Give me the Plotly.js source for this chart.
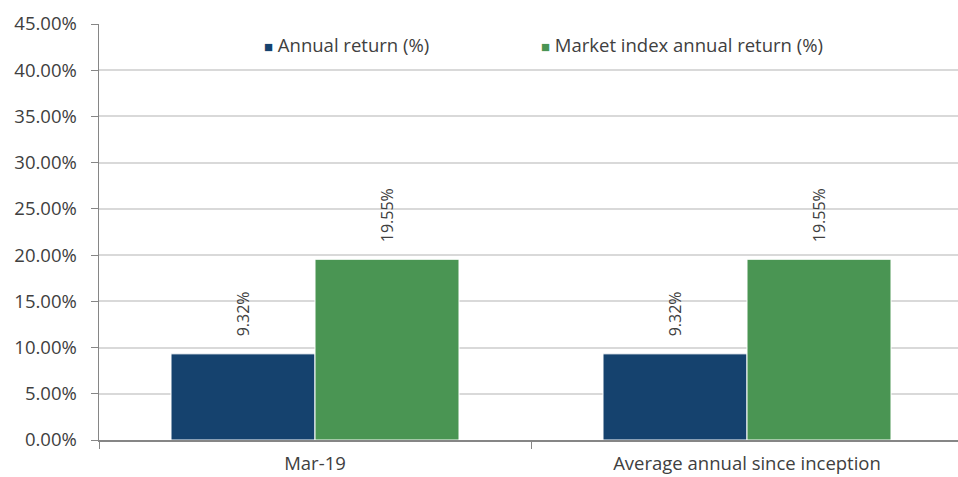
<!DOCTYPE html>
<html>
<head>
<meta charset="utf-8">
<script src="https://cdn.plot.ly/plotly-3.0.1.min.js"></script>
<style>html,body{margin:0;padding:0;background:#fff;overflow:hidden;width:958px;height:477px}#chart{width:963px;height:477px}</style>
</head>
<body>
<div id="chart"></div>
<script>
const categories = ["Mar-19", "Average annual since inception"];
const seriesNames = ["Annual return (%)", "Market index annual return (%)"];
const annualReturn = [9.32, 9.32];
const marketReturn = [19.55, 19.55];
const seriesColors = ["#15426E", "#4A9553"];
const seriesValues = [annualReturn, marketReturn];

const FONT = "Open Sans, Noto Sans, sans-serif";
const TXT = "#404040";

const traces = seriesValues.map((vals, s) => ({
  type: "bar",
  name: seriesNames[s],
  x: categories,
  y: vals,
  marker: { color: seriesColors[s], line: { color: "#ffffff", width: 1 } },
  hoverinfo: "skip"
}));

const annotations = [];
// value labels (rotated) above each bar
seriesValues.forEach((vals, s) => {
  vals.forEach((v, i) => {
    annotations.push({
      x: i + (s === 0 ? -1 / 6 : 1 / 6),
      y: v,
      xref: "x", yref: "y",
      text: v.toFixed(2) + "%",
      textangle: -90,
      showarrow: false,
      xanchor: "center",
      yanchor: "bottom",
      yshift: 15,
      font: { family: FONT, size: 16, color: TXT }
    });
  });
});
// legend drawn as text with coloured squares
const legendX = [0.1885, 0.5096];
seriesNames.forEach((n, s) => {
  annotations.push({
    x: legendX[s], y: 0.951, xref: "paper", yref: "paper",
    xanchor: "left", yanchor: "middle", showarrow: false,
    text: '<span style="color:' + seriesColors[s] + ';font-size:15px">■</span> ' + n,
    font: { family: FONT, size: 18.5, color: TXT }
  });
});

const layout = {
  width: 963, height: 477,
  margin: { l: 99, r: 0, t: 24, b: 37 },
  paper_bgcolor: "#ffffff", plot_bgcolor: "#ffffff",
  font: { family: FONT, color: TXT },
  showlegend: false,
  barmode: "group",
  bargap: 1 / 3,
  bargroupgap: 0,
  xaxis: {
    type: "category",
    showline: true, linecolor: "#868686", linewidth: 1.5,
    ticks: "outside", tickson: "boundaries", ticklen: 7, tickcolor: "#868686",
    showgrid: false,
    ticklabelstandoff: 6,
    tickfont: { family: FONT, size: 18.5, color: TXT }
  },
  yaxis: {
    range: [0, 45], dtick: 5, tick0: 0,
    tickformat: ".2f", ticksuffix: "%",
    showline: true, linecolor: "#868686", linewidth: 1.5,
    ticks: "outside", ticklen: 7, tickcolor: "#868686",
    gridcolor: "#d9d9d9", gridwidth: 2,
    zeroline: false,
    ticklabelstandoff: 10,
    tickfont: { family: FONT, size: 18.5, color: TXT }
  },
  annotations: annotations
};

Plotly.newPlot("chart", traces, layout, { staticPlot: true, displayModeBar: false });
</script>
</body>
</html>
